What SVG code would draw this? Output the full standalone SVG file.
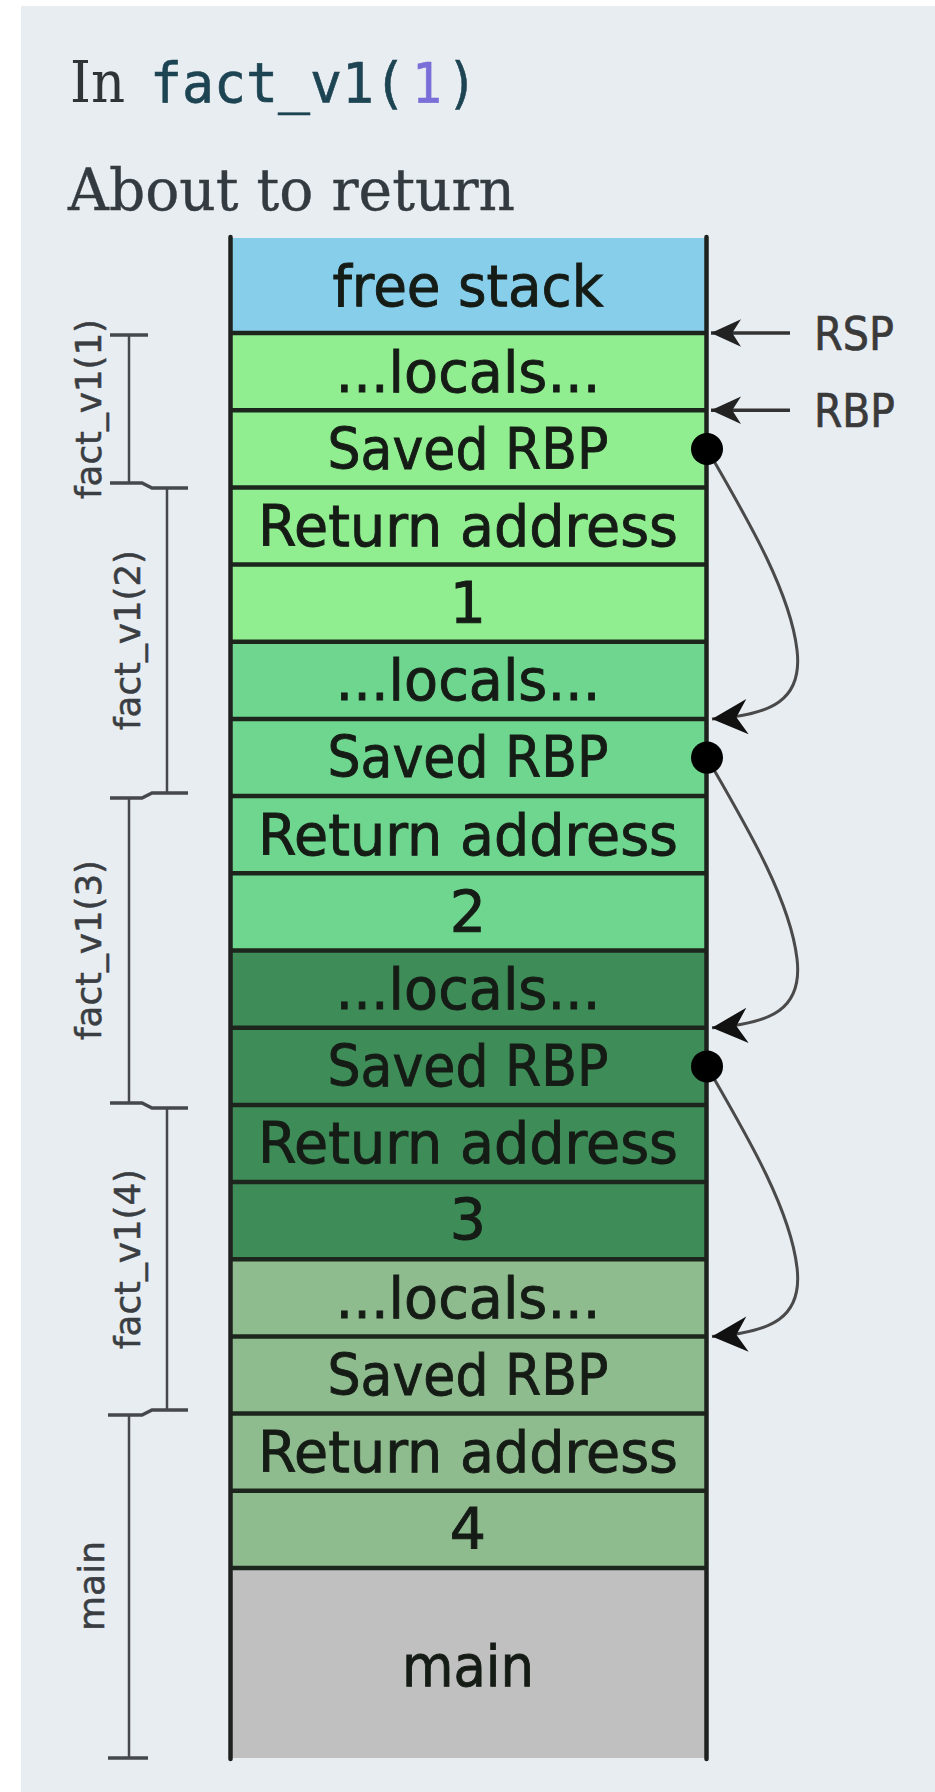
<svg xmlns="http://www.w3.org/2000/svg" width="935" height="1792" viewBox="0 0 935 1792">
<defs>
<style>
.rt{font-family:"DejaVu Sans",Verdana,sans-serif;font-size:57px;fill:#151b15;stroke:#151b15;stroke-width:0.9;text-anchor:middle}
.fl{font-family:"DejaVu Sans",Verdana,sans-serif;font-size:36px;fill:#3a3e42;stroke:#3a3e42;stroke-width:0.5;text-anchor:middle}
.reg{font-family:"DejaVu Sans",Verdana,sans-serif;font-size:46px;fill:#3a3a3a;stroke:#3a3a3a;stroke-width:0.7}
.mono{font-family:"DejaVu Sans Mono",monospace;font-size:55px;stroke-width:0.6}
.sep{stroke:#1c261c;stroke-width:4.5}
.side{stroke:#1e221e;stroke-width:4.5;stroke-linecap:round}
.br{stroke:#45494d;stroke-width:2.5;fill:none}
.tk{stroke:#45494d;stroke-width:3.5;fill:none}
.ptr{stroke:#333;stroke-width:3.5;fill:none}
.link{stroke:#4a4a4a;stroke-width:3;fill:none}
.c1{fill:#90ee90}.c2{fill:#6fd68f}.c3{fill:#3e8c58}.c4{fill:#8fbc8f}
</style>
<marker id="ahs" markerUnits="userSpaceOnUse" orient="auto" refX="0" refY="0" markerWidth="40" markerHeight="40" viewBox="-30 -15 32 30" overflow="visible">
<path d="M0,0 L-24,-11 L-17,0 L-24,11 Z" fill="#222"/>
</marker>
<marker id="ahl" markerUnits="userSpaceOnUse" orient="auto" refX="0" refY="0" markerWidth="40" markerHeight="40" viewBox="-34 -18 36 36" overflow="visible">
<path d="M0,0 L-32,-16 L-22,0 L-32,16 Z" fill="#111"/>
</marker>
</defs>
<rect x="21" y="6" width="914" height="1786" fill="#e8edf2"/>
<g id="title">
<text x="70" y="102" font-family="'DejaVu Serif',serif" font-size="58" fill="#2f3437" textLength="55" lengthAdjust="spacingAndGlyphs">In</text>
<text class="mono" x="150" y="102" fill="#1d4452" stroke="#1d4452" textLength="256" lengthAdjust="spacingAndGlyphs">fact_v1(</text>
<text class="mono" x="412" y="102" fill="#7a6fd8" stroke="#7a6fd8" textLength="30" lengthAdjust="spacingAndGlyphs">1</text>
<text class="mono" x="447" y="102" fill="#1d4452" stroke="#1d4452" textLength="30" lengthAdjust="spacingAndGlyphs">)</text>
</g>
<g id="subtitle">
<text x="68" y="210" font-family="'DejaVu Serif',serif" font-size="58" fill="#333b40" stroke="#333b40" stroke-width="0.4" textLength="447" lengthAdjust="spacingAndGlyphs">About to return</text>
</g>
<g id="stack">
<g id="free-stack"><rect x="230" y="238" width="477" height="95" fill="#87ceeb"/><text class="rt" x="468" y="306" textLength="271" lengthAdjust="spacingAndGlyphs">free stack</text></g>
<g id="f1-locals"><rect class="c1" x="230" y="333" width="477" height="77.2"/><text class="rt" x="468" y="392" textLength="265" lengthAdjust="spacingAndGlyphs">...locals...</text></g>
<g id="f1-saved-rbp"><rect class="c1" x="230" y="410.2" width="477" height="77.2"/><text class="rt" x="468" y="469" textLength="281" lengthAdjust="spacingAndGlyphs">Saved RBP</text></g>
<g id="f1-return"><rect class="c1" x="230" y="487.4" width="477" height="77.2"/><text class="rt" x="468" y="546" textLength="420" lengthAdjust="spacingAndGlyphs">Return address</text></g>
<g id="f1-arg"><rect class="c1" x="230" y="564.6" width="477" height="77.2"/><text class="rt" x="468" y="623">1</text></g>
<g id="f2-locals"><rect class="c2" x="230" y="641.8" width="477" height="77.2"/><text class="rt" x="468" y="700" textLength="265" lengthAdjust="spacingAndGlyphs">...locals...</text></g>
<g id="f2-saved-rbp"><rect class="c2" x="230" y="718.9" width="477" height="77.2"/><text class="rt" x="468" y="777" textLength="281" lengthAdjust="spacingAndGlyphs">Saved RBP</text></g>
<g id="f2-return"><rect class="c2" x="230" y="796.1" width="477" height="77.2"/><text class="rt" x="468" y="855" textLength="420" lengthAdjust="spacingAndGlyphs">Return address</text></g>
<g id="f2-arg"><rect class="c2" x="230" y="873.3" width="477" height="77.2"/><text class="rt" x="468" y="932">2</text></g>
<g id="f3-locals"><rect class="c3" x="230" y="950.5" width="477" height="77.2"/><text class="rt" x="468" y="1009" textLength="265" lengthAdjust="spacingAndGlyphs">...locals...</text></g>
<g id="f3-saved-rbp"><rect class="c3" x="230" y="1027.7" width="477" height="77.2"/><text class="rt" x="468" y="1086" textLength="281" lengthAdjust="spacingAndGlyphs">Saved RBP</text></g>
<g id="f3-return"><rect class="c3" x="230" y="1104.9" width="477" height="77.2"/><text class="rt" x="468" y="1163" textLength="420" lengthAdjust="spacingAndGlyphs">Return address</text></g>
<g id="f3-arg"><rect class="c3" x="230" y="1182.1" width="477" height="77.2"/><text class="rt" x="468" y="1240">3</text></g>
<g id="f4-locals"><rect class="c4" x="230" y="1259.3" width="477" height="77.2"/><text class="rt" x="468" y="1318" textLength="265" lengthAdjust="spacingAndGlyphs">...locals...</text></g>
<g id="f4-saved-rbp"><rect class="c4" x="230" y="1336.4" width="477" height="77.2"/><text class="rt" x="468" y="1395" textLength="281" lengthAdjust="spacingAndGlyphs">Saved RBP</text></g>
<g id="f4-return"><rect class="c4" x="230" y="1413.6" width="477" height="77.2"/><text class="rt" x="468" y="1472" textLength="420" lengthAdjust="spacingAndGlyphs">Return address</text></g>
<g id="f4-arg"><rect class="c4" x="230" y="1490.8" width="477" height="77.2"/><text class="rt" x="468" y="1549">4</text></g>
<g id="main-frame"><rect x="230" y="1568" width="477" height="190" fill="#c0c0c0"/><text class="rt" x="468" y="1686" textLength="132" lengthAdjust="spacingAndGlyphs">main</text></g>
<g id="separators">
<line class="sep" x1="230" x2="707" y1="333" y2="333"/>
<line class="sep" x1="230" x2="707" y1="410.2" y2="410.2"/>
<line class="sep" x1="230" x2="707" y1="487.4" y2="487.4"/>
<line class="sep" x1="230" x2="707" y1="564.6" y2="564.6"/>
<line class="sep" x1="230" x2="707" y1="641.8" y2="641.8"/>
<line class="sep" x1="230" x2="707" y1="718.9" y2="718.9"/>
<line class="sep" x1="230" x2="707" y1="796.1" y2="796.1"/>
<line class="sep" x1="230" x2="707" y1="873.3" y2="873.3"/>
<line class="sep" x1="230" x2="707" y1="950.5" y2="950.5"/>
<line class="sep" x1="230" x2="707" y1="1027.7" y2="1027.7"/>
<line class="sep" x1="230" x2="707" y1="1104.9" y2="1104.9"/>
<line class="sep" x1="230" x2="707" y1="1182.1" y2="1182.1"/>
<line class="sep" x1="230" x2="707" y1="1259.3" y2="1259.3"/>
<line class="sep" x1="230" x2="707" y1="1336.4" y2="1336.4"/>
<line class="sep" x1="230" x2="707" y1="1413.6" y2="1413.6"/>
<line class="sep" x1="230" x2="707" y1="1490.8" y2="1490.8"/>
<line class="sep" x1="230" x2="707" y1="1568" y2="1568"/>
</g>
<line class="side" x1="230.5" y1="237" x2="230.5" y2="1759"/>
<line class="side" x1="706.5" y1="237" x2="706.5" y2="1759"/>
</g>
<g id="frame-brackets">
<g id="bracket-f1"><line class="br" x1="129" y1="335" x2="129" y2="483"/><line class="tk" x1="110" y1="335" x2="148" y2="335"/><text class="fl" transform="translate(101,409) rotate(-90)" textLength="180" lengthAdjust="spacingAndGlyphs">fact_v1(1)</text></g>
<g id="bracket-f2"><line class="br" x1="167" y1="488" x2="167" y2="793"/><text class="fl" transform="translate(140,640) rotate(-90)" textLength="180" lengthAdjust="spacingAndGlyphs">fact_v1(2)</text></g>
<g id="bracket-f3"><line class="br" x1="129" y1="798" x2="129" y2="1103"/><text class="fl" transform="translate(101,950) rotate(-90)" textLength="180" lengthAdjust="spacingAndGlyphs">fact_v1(3)</text></g>
<g id="bracket-f4"><line class="br" x1="167" y1="1108" x2="167" y2="1410"/><text class="fl" transform="translate(140,1259) rotate(-90)" textLength="180" lengthAdjust="spacingAndGlyphs">fact_v1(4)</text></g>
<g id="bracket-main"><line class="br" x1="129" y1="1415" x2="129" y2="1758"/><line class="tk" x1="108" y1="1758" x2="148" y2="1758"/><text class="fl" transform="translate(104,1586) rotate(-90)">main</text></g>
<polyline class="tk" points="110,483 142,483 152,488 188,488"/>
<polyline class="tk" points="188,793 152,793 142,798 110,798"/>
<polyline class="tk" points="110,1103 142,1103 152,1108 188,1108"/>
<polyline class="tk" points="188,1410 152,1410 142,1415 108,1415"/>
</g>
<g id="connectors">
<line class="ptr" x1="790" y1="333" x2="711" y2="333" marker-end="url(#ahs)"/>
<line class="ptr" x1="790" y1="410.2" x2="711" y2="410.2" marker-end="url(#ahs)"/>
<path class="link" d="M707 449 C745 515 790 590 797 650 C803 700 772 715 712 719" marker-end="url(#ahl)"/>
<path class="link" transform="translate(0,308.75)" d="M707 449 C745 515 790 590 797 650 C803 700 772 715 712 719" marker-end="url(#ahl)"/>
<path class="link" transform="translate(0,617.5)" d="M707 449 C745 515 790 590 797 650 C803 700 772 715 712 719" marker-end="url(#ahl)"/>
<circle cx="707" cy="449" r="16" fill="#000"/>
<circle cx="707" cy="757.6" r="16" fill="#000"/>
<circle cx="707" cy="1066.4" r="16" fill="#000"/>
</g>
<g id="register-labels">
<text class="reg" x="814" y="350" textLength="80" lengthAdjust="spacingAndGlyphs">RSP</text>
<text class="reg" x="814" y="427" textLength="81" lengthAdjust="spacingAndGlyphs">RBP</text>
</g>
</svg>
